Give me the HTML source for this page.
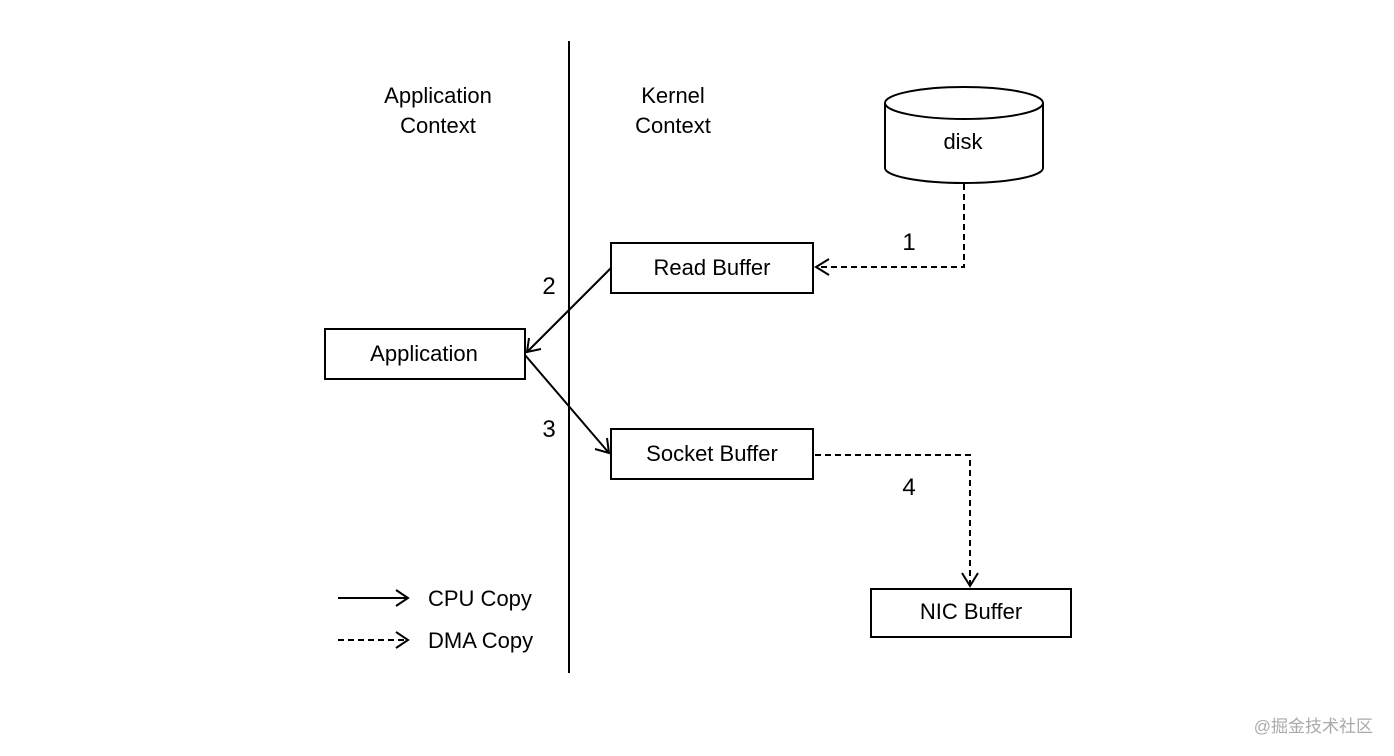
<!DOCTYPE html>
<html><head><meta charset="utf-8"><style>
html,body{margin:0;padding:0;background:#fff;}
svg{display:block;}
text{font-family:"Liberation Sans","Noto Sans CJK SC",sans-serif;font-size:22px;fill:#000;}
.n{font-size:24px;}
</style></head><body>
<svg width="1394" height="756" viewBox="0 0 1394 756" xmlns="http://www.w3.org/2000/svg">
<g fill="none" stroke="#000" stroke-width="2">
<line x1="569" y1="41" x2="569" y2="673"/>
<rect x="611" y="243" width="202" height="50"/>
<rect x="325" y="329" width="200" height="50"/>
<rect x="611" y="429" width="202" height="50"/>
<rect x="871" y="589" width="200" height="48"/>
<path d="M885 103 V168 A79 15 0 0 0 1043 168 V103" fill="#fff"/>
<ellipse cx="964" cy="103" rx="79" ry="16" fill="#fff"/>
<path d="M964 184 V267 H817" stroke-dasharray="6 4"/>
<path d="M829 259 L816 267 L829 275"/>
<line x1="611" y1="268" x2="527" y2="352"/>
<path d="M529 338 L527 352 L541 349"/>
<line x1="525" y1="355" x2="609" y2="453"/>
<path d="M607 438 L609 453 L595 449"/>
<path d="M815 455 H970 V585" stroke-dasharray="6 4"/>
<path d="M962 573 L970 586 L978 573"/>
<line x1="338" y1="598" x2="407" y2="598"/>
<path d="M396 590 L408 598 L396 606"/>
<line x1="338" y1="640" x2="407" y2="640" stroke-dasharray="6 4"/>
<path d="M396 632 L408 640 L396 648"/>
</g>
<text x="438" y="103" text-anchor="middle">Application</text>
<text x="438" y="133" text-anchor="middle">Context</text>
<text x="673" y="103" text-anchor="middle">Kernel</text>
<text x="673" y="133" text-anchor="middle">Context</text>
<text x="963" y="149" text-anchor="middle">disk</text>
<text x="712" y="275" text-anchor="middle">Read Buffer</text>
<text x="424" y="361" text-anchor="middle">Application</text>
<text x="712" y="461" text-anchor="middle">Socket Buffer</text>
<text x="971" y="619" text-anchor="middle">NIC Buffer</text>
<text class="n" x="909" y="250" text-anchor="middle">1</text>
<text class="n" x="549" y="294" text-anchor="middle">2</text>
<text class="n" x="549" y="437" text-anchor="middle">3</text>
<text class="n" x="909" y="495" text-anchor="middle">4</text>
<text x="428" y="606">CPU  Copy</text>
<text x="428" y="648">DMA Copy</text>
<text x="1373" y="732" text-anchor="end" style="font-size:17px;fill:#aaa">@掘金技术社区</text>
</svg>
</body></html>
